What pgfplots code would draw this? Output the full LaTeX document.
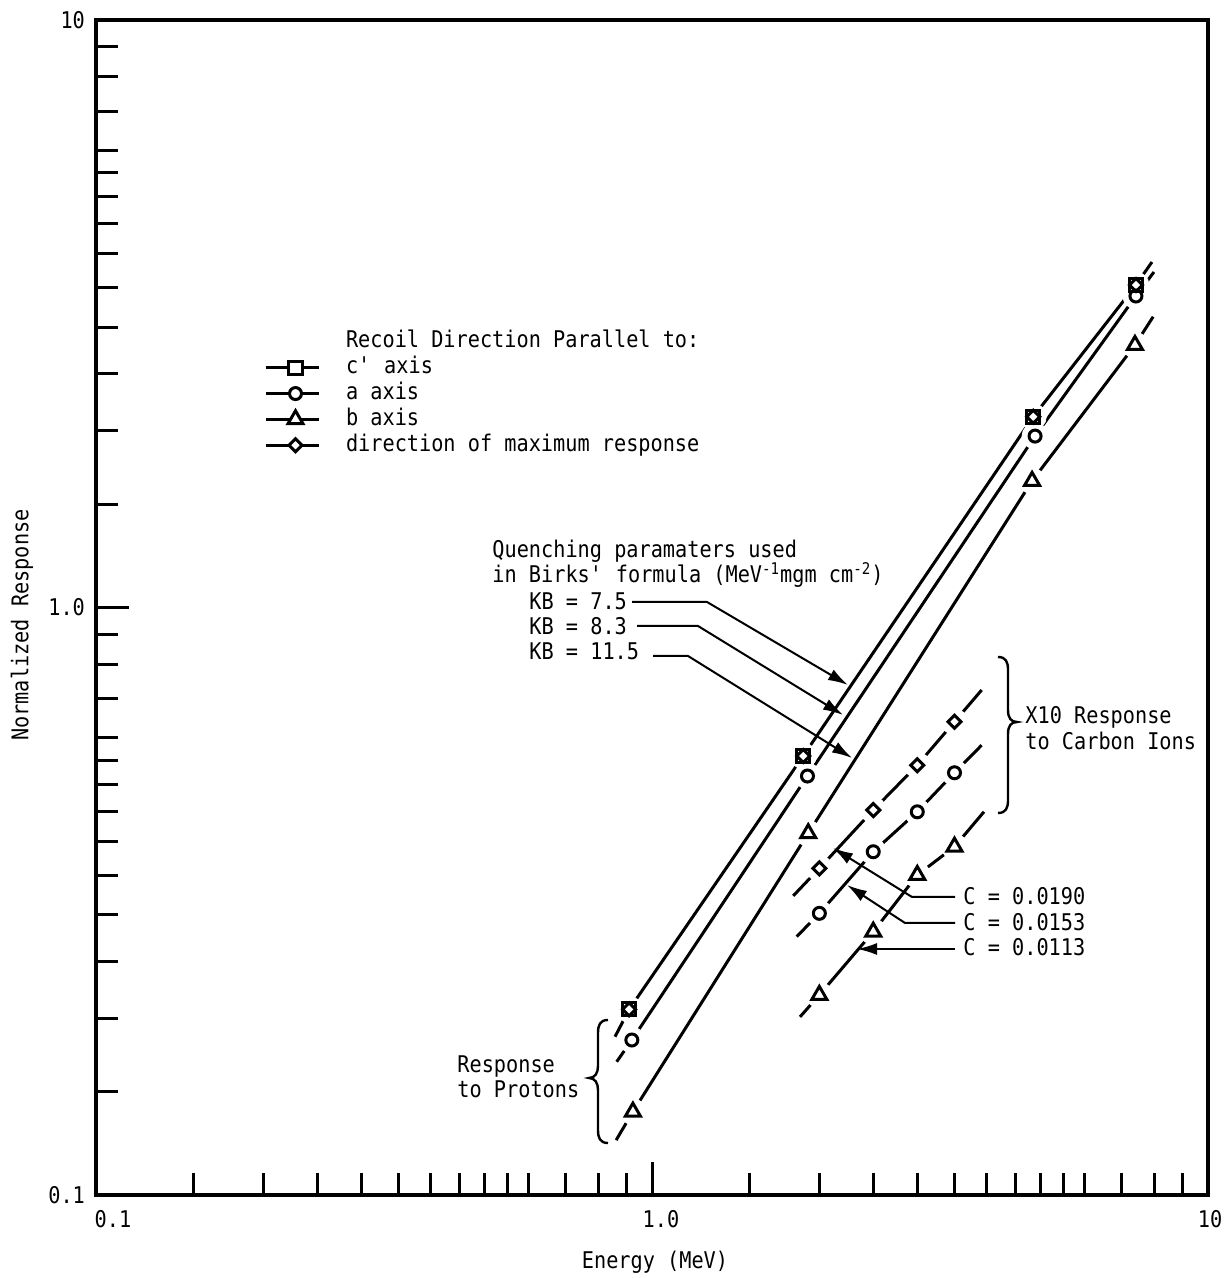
\documentclass[border=0pt]{standalone}
\usepackage{fontspec}
\setmainfont{DejaVu Sans Mono}[FakeStretch=0.88]
\usepackage{pgfplots}
\pgfplotsset{compat=1.18}
\usetikzlibrary{arrows.meta,calc}

\pgfplotsset{
  halo/.style={only marks, mark=*, mark size=6.5pt, white, mark options={draw=white, fill=white}, forget plot},
  pl/.style={line width=1.5pt, black, mark=none, forget plot},
  mk/.style={only marks, black, forget plot},
  msq/.style={mark=square, mark size=3.3pt, mark options={line width=1.5pt, solid}},
  mci/.style={mark=o, mark size=3.0pt, mark options={line width=1.5pt, solid}},
  mtr/.style={mark=triangle, mark size=4.3pt, mark options={line width=1.5pt, solid}},
  mdi/.style={mark=square, mark size=2.3pt, mark options={line width=1.5pt, solid, rotate=45}},
}

\begin{document}
\begin{tikzpicture}[font=\fontsize{11.5}{13}\selectfont]
\begin{axis}[
  name=ax,
  scale only axis, width=556pt, height=587.5pt,
  xmode=log, ymode=log, xmin=0.1, xmax=10, ymin=0.1, ymax=10,
  axis line style={line width=2pt},
  tick pos=left, tick align=inside,
  xtick={0.1,1,10}, xticklabels={\hspace{17pt}0.1,\hspace{9pt}1.0,\hspace{2pt}10},
  ytick={0.1,1,10}, yticklabels={0.1,1.0,10},
  minor xtick={0.15,0.2,0.25,0.3,0.35,0.4,0.45,0.5,0.55,0.6,0.7,0.8,0.9,1.5,2,2.5,3,3.5,4,4.5,5,5.5,6,7,8,9},
  minor ytick={0.15,0.2,0.25,0.3,0.35,0.4,0.45,0.5,0.55,0.6,0.7,0.8,0.9,1.5,2,2.5,3,3.5,4,4.5,5,5.5,6,7,8,9},
  major tick length=16.5pt, minor tick length=11pt,
  every tick/.style={line width=1.5pt, black},
  xticklabel style={anchor=north, yshift=-4pt},
  yticklabel style={anchor=east, xshift=-2pt},
  xlabel={Energy (MeV)}, ylabel={Normalized Response},
  xlabel style={at={(axis description cs:0.5027,-0.057)}, anchor=center},
  ylabel style={at={(axis description cs:-0.0665,0.485)}, anchor=center},
  clip=false,
  legend style={at={(0.1511,0.7362)}, anchor=north west, draw=none, fill=none,
    inner sep=0pt, outer sep=0pt, row sep=0.9pt, column sep=13pt,
    nodes={inner sep=0pt, text height=9pt, text depth=3pt}},
  legend cell align=left,
  legend image code/.code={\draw[#1,mark=none] (0pt,0pt) -- (26.5pt,0pt); \draw[#1] plot coordinates {(15pt,0pt)};},
]
% ---- curves (protons)
\addplot[pl] coordinates {(0.858,0.186) (0.910,0.207) (1.871,0.559) (4.85,2.112) (7.42,3.54) (7.93,3.873)};
\addplot[pl] coordinates {(0.864,0.1686) (0.920,0.1836) (1.904,0.5166) (4.886,1.958) (7.42,3.39) (7.996,3.724)};
\addplot[pl] coordinates {(0.862,0.124) (0.924,0.1386) (1.910,0.4127) (4.826,1.642) (7.39,2.797) (7.97,3.126)};
% ---- curves (carbon ions x10)
\addplot[pl] coordinates {(1.795,0.323) (2.0,0.3598) (2.5,0.452) (3.0,0.539) (3.5,0.639) (3.917,0.7237)};
\addplot[pl] coordinates {(1.821,0.2753) (2.0,0.3016) (2.5,0.384) (3.0,0.449) (3.5,0.5233) (3.917,0.583)};
\addplot[pl] coordinates {(1.846,0.201) (2.0,0.219) (2.5,0.2806) (3.0,0.3505) (3.5,0.3916) (3.955,0.449)};
% ---- gaps around markers
\addplot[halo] coordinates {(0.910,0.207) (1.871,0.559) (4.85,2.112) (7.42,3.54)};
\addplot[halo] coordinates {(0.920,0.1836) (1.904,0.5166) (4.886,1.958) (7.42,3.39)};
\addplot[halo] coordinates {(0.924,0.1386) (1.910,0.4127) (4.826,1.642) (7.39,2.797)};
\addplot[halo] coordinates {(2.0,0.3598) (2.5,0.452) (3.0,0.539) (3.5,0.639)};
\addplot[halo] coordinates {(2.0,0.3016) (2.5,0.384) (3.0,0.449) (3.5,0.5233)};
\addplot[halo] coordinates {(2.0,0.219) (2.5,0.2806) (3.0,0.3505) (3.5,0.3916)};
% ---- markers
\addplot[mk,msq] coordinates {(0.910,0.207) (1.871,0.559) (4.85,2.112) (7.42,3.54)};
\addplot[mk,mdi] coordinates {(0.910,0.207) (1.871,0.559) (4.85,2.112) (7.42,3.54)};
\addplot[mk,mci] coordinates {(0.920,0.1836) (1.904,0.5166) (4.886,1.958) (7.42,3.39)};
\addplot[mk,mtr] coordinates {(0.924,0.1386) (1.910,0.4127) (4.826,1.642) (7.39,2.797)};
\addplot[mk,mdi] coordinates {(2.0,0.3598) (2.5,0.452) (3.0,0.539) (3.5,0.639)};
\addplot[mk,mci] coordinates {(2.0,0.3016) (2.5,0.384) (3.0,0.449) (3.5,0.5233)};
\addplot[mk,mtr] coordinates {(2.0,0.219) (2.5,0.2806) (3.0,0.3505) (3.5,0.3916)};
% ---- legend
\addlegendimage{empty legend}
\addlegendentry{Recoil Direction Parallel to:}
\addlegendimage{line width=1.5pt, black, mark=square*, mark size=3.3pt, mark options={line width=1.5pt, solid, fill=white}}
\addlegendentry{c\textquotesingle\ axis}
\addlegendimage{line width=1.5pt, black, mark=*, mark size=3.0pt, mark options={line width=1.5pt, solid, fill=white}}
\addlegendentry{a axis}
\addlegendimage{line width=1.5pt, black, mark=triangle*, mark size=4.3pt, mark options={line width=1.5pt, solid, fill=white}}
\addlegendentry{b axis}
\addlegendimage{line width=1.5pt, black, mark=square*, mark size=2.3pt, mark options={line width=1.5pt, solid, fill=white, rotate=45}}
\addlegendentry{direction of maximum response}
\end{axis}

\begin{scope}[x=0.5pt,y=-0.5pt,shift={($(ax.north west)+(-48pt,10pt)$)}]
  \tikzset{lbl/.style={anchor=base west, inner sep=0pt}, lead/.style={line width=1pt, -{Latex[length=10pt,width=6pt]}}}
  \node[lbl] at (492,558) {Quenching paramaters used};
  \node[lbl] at (492,583) {in Birks\textquotesingle\ formula (MeV\textsuperscript{-1}mgm cm\textsuperscript{-2})};
  \node[lbl] at (529,610) {KB = 7.5};
  \node[lbl] at (529,635) {KB = 8.3};
  \node[lbl] at (529,660) {KB = 11.5};
  \draw[lead] (632,602) -- (707,602) -- (848,685);
  \draw[lead] (637,626) -- (698,626) -- (843,715);
  \draw[lead] (653,656) -- (688,656) -- (852,758);

  \node[lbl] at (1025,724) {X10 Response};
  \node[lbl] at (1025,750) {to Carbon Ions};
  \draw[line width=1.2pt] (998,657) .. controls (1006,657) and (1008,662) .. (1008,670) -- (1008,710)
     .. controls (1008,718) and (1011,722) .. (1017,722) .. controls (1011,722) and (1008,726) .. (1008,734)
     -- (1008,800) .. controls (1008,808) and (1006,813) .. (998,813);

  \node[lbl] at (963,905) {C = 0.0190};
  \node[lbl] at (963,931) {C = 0.0153};
  \node[lbl] at (963,956) {C = 0.0113};
  \draw[lead] (955,897) -- (912,897) -- (833,848);
  \draw[lead] (955,923) -- (905,923) -- (847,885);
  \draw[lead] (955,949) -- (857,949);

  \node[lbl] at (457,1073) {Response};
  \node[lbl] at (457,1098) {to Protons};
  \draw[line width=1.2pt] (608,1020) .. controls (600,1020) and (598,1025) .. (598,1033) -- (598,1066)
     .. controls (598,1073) and (595,1078) .. (589,1078) .. controls (595,1078) and (598,1083) .. (598,1090)
     -- (598,1130) .. controls (598,1138) and (600,1143) .. (608,1143);

  \pgfresetboundingbox
  \path[use as bounding box] (0,0) rectangle (1226,1278);
\end{scope}
\end{tikzpicture}
\end{document}
